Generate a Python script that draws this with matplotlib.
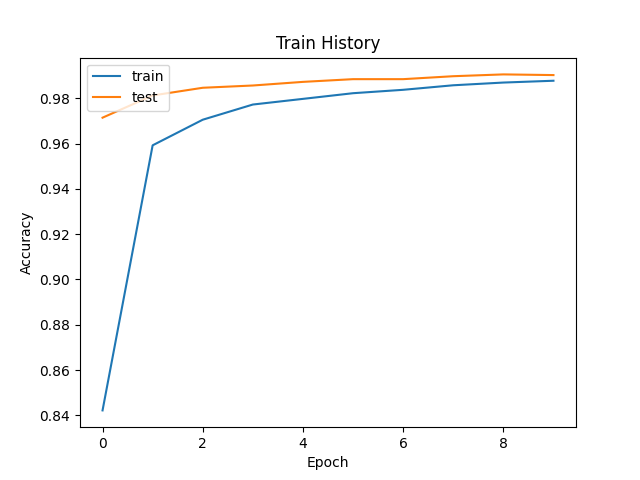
import matplotlib
matplotlib.use("Agg")
import matplotlib.pyplot as plt

epochs = list(range(10))
train = [0.8422, 0.9592, 0.9705, 0.9772, 0.9797, 0.9822, 0.9837, 0.9857, 0.9869, 0.9877]
test = [0.9714, 0.9812, 0.9846, 0.9856, 0.9872, 0.9884, 0.9884, 0.9897, 0.9905, 0.9902]

fig = plt.figure(figsize=(6.4, 4.8), dpi=100)
plt.plot(epochs, train)
plt.plot(epochs, test)
plt.title("Train History")
plt.ylabel("Accuracy")
plt.xlabel("Epoch")
plt.legend(["train", "test"], loc="upper left")
plt.savefig("out.png")
